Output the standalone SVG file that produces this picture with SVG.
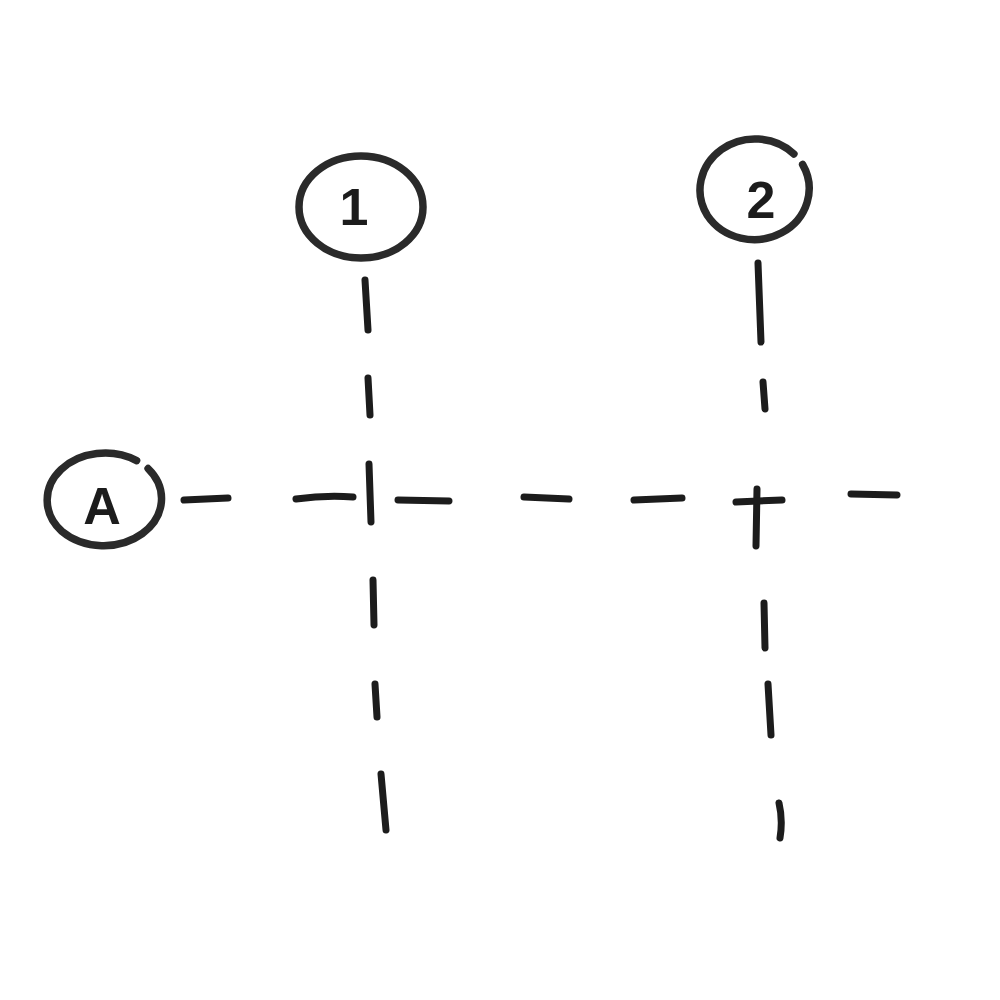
<svg xmlns="http://www.w3.org/2000/svg" width="1000" height="1000" viewBox="0 0 1000 1000">
<style>
.ink{fill:none;stroke:#1c1c1c;stroke-width:7;stroke-linecap:round;stroke-linejoin:round}
.bub{fill:none;stroke:#2a2a2a;stroke-width:7.5;stroke-linecap:round}
.lbl{font-family:"Liberation Sans",Arial,sans-serif;font-weight:bold;font-size:52px;fill:#1c1c1c;text-anchor:middle}
</style>
<rect width="1000" height="1000" fill="#ffffff"/>
<g id="axis-1">
<ellipse class="bub" cx="361" cy="207" rx="62" ry="51"/>
<text class="lbl" x="354" y="225">1</text>
</g>
<g id="axis-2">
<path class="bub" d="M 802.6 164.5 A 55 51 0 0 1 707.4 215.5 A 55 51 0 0 1 793.9 153.9"/>
<text class="lbl" x="761" y="218">2</text>
</g>
<g id="axis-A">
<path class="bub" d="M 148.1 468.6 A 58 47 0 0 1 61.9 531.4 A 58 47 0 0 1 136.6 460.6"/>
<text class="lbl" x="102" y="524">A</text>
</g>
<g id="connectors">
<path class="ink" d="M365 280 L368 330 M368 378 L370 415 M369 464 L371 522 M373 580 L374 625 M375 684 L377 717 M381 774 L386 830"/>
<path class="ink" d="M758 263 L761 342 M763 382 L765 409 M757 489 L756 546 M764 603 L765 648 M768 684 L771 735 M779 803 Q783 820 780 838"/>
<path class="ink" d="M184 500 L228 498 M296 499 Q325 495 353 497 M398 500 L449 501 M524 497 L569 499 M634 500 L682 498 M736 502 L782 500 M851 494 L897 495"/>
</g>
</svg>
